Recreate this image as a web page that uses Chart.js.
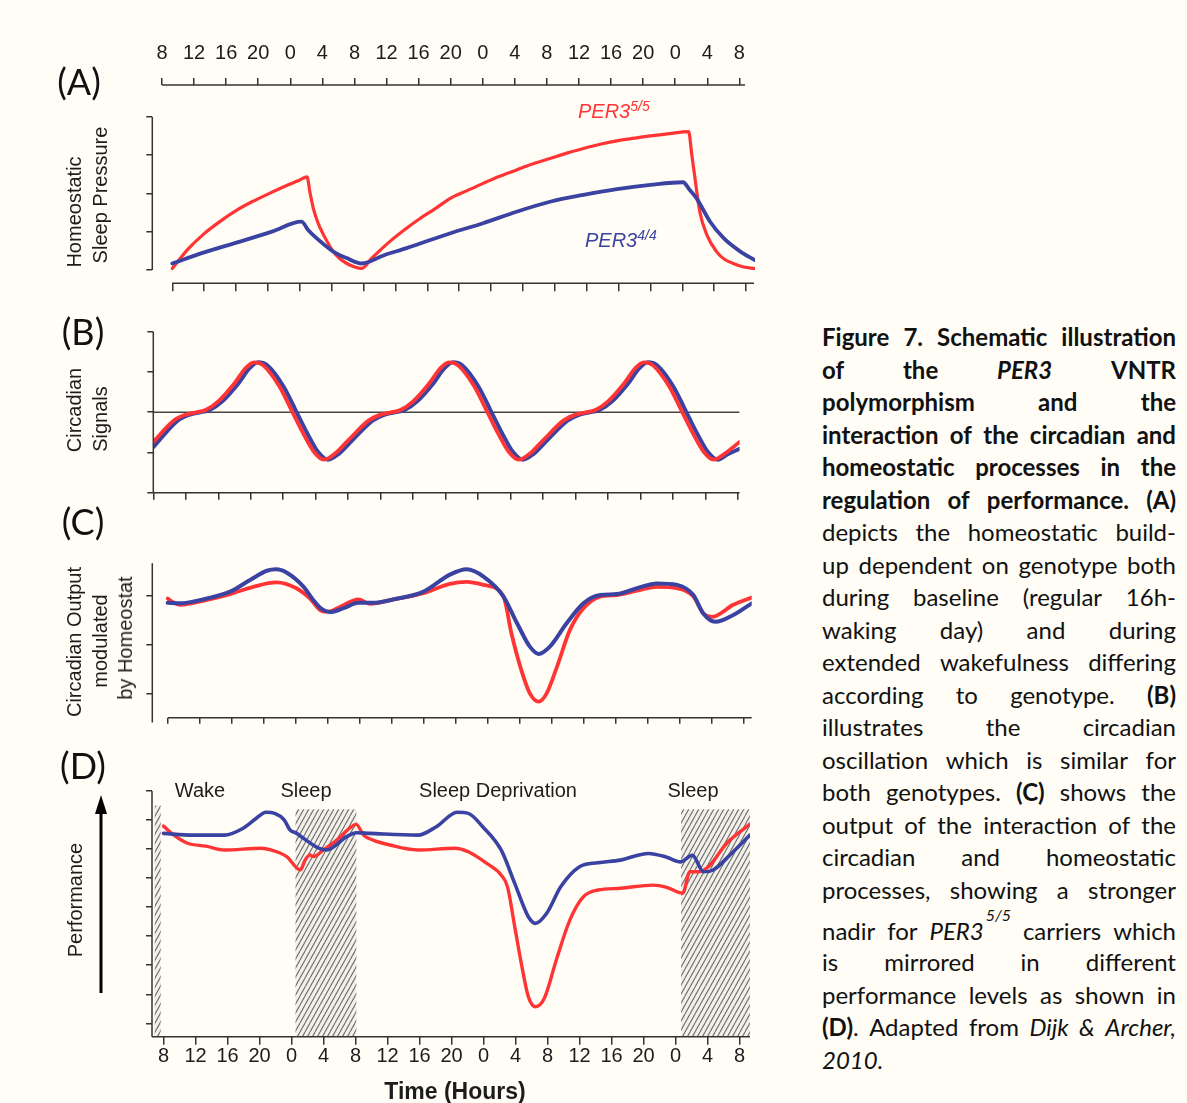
<!DOCTYPE html>
<html>
<head>
<meta charset="utf-8">
<title>PER3 VNTR: circadian and homeostatic processes</title>
<script src="https://cdn.jsdelivr.net/npm/chart.js@4.4.1/dist/chart.umd.min.js"></script>
<style>
  body { margin: 0; background: #fffdf5; }
  #figure { position: relative; width: 1187px; height: 1103px; overflow: hidden;
            font-family: 'Liberation Sans', Arial, sans-serif; color: #1c1c1c; }
  #figure canvas { position: absolute; }
  .lbl { position: absolute; white-space: nowrap; line-height: 1; font-size: 20px; }
  .panel { font-family: Lato, sans-serif; font-size: 36px; color: #111; }
  .gene { position: absolute; font-size: 20px; line-height: 20px; font-style: italic; white-space: nowrap; }
  .gene sup { font-size: 14px; vertical-align: 7px; line-height: 0; }
  .cap { position: absolute; left: 822px; width: 354px; height: 30px; line-height: 30px;
         display: flex; justify-content: space-between; align-items: baseline;
         font-family: Lato, sans-serif; font-size: 24px; color: #111; white-space: nowrap; }
  .cap.last { justify-content: flex-start; }
  .cap sup { font-size: 16px; font-style: italic; vertical-align: 19px; line-height: 0; margin-left: 2px; }
</style>
</head>
<body>
<div id="figure">
  <canvas id="topAxis"></canvas>
  <canvas id="pressureChart"></canvas>
  <canvas id="circadianChart"></canvas>
  <canvas id="outputChart"></canvas>
  <canvas id="performanceChart"></canvas>
</div>
<script>
// hours since 08:00 on the first day
const hourTicks = [0, 4, 8, 12, 16, 20, 24, 28, 32, 36, 40, 44, 48, 52, 56, 60, 64, 68, 72];
const clockLabels = ['8', '12', '16', '20', '0', '4', '8', '12', '16', '20', '0', '4', '8', '12', '16', '20', '0', '4', '8'];

// (A) homeostatic sleep pressure
const pressureTicks = [0, 1, 2, 3, 4];
const pressureHours55 = [0, 2, 4, 6, 8, 10, 12, 14, 16, 16.9, 17.3, 17.7, 18.3, 19, 20.2, 21, 21.9, 23, 23.8,
  25, 26, 27.5, 29.4, 31, 33, 34.9, 37, 39, 41, 43.2, 45, 47.4, 49.5, 51.6, 53.7, 55.8, 58, 60, 62.4, 64.8,
  65.2, 65.6, 66.2, 67.1, 68.3, 69.3, 70.4, 71.7, 73.1];
const pressure55 = [0.04, 0.55, 0.95, 1.27, 1.55, 1.78, 1.98, 2.17, 2.35, 2.43, 2.0, 1.61, 1.22, 0.91, 0.48, 0.3, 0.17, 0.07, 0.04,
  0.3, 0.5, 0.78, 1.09, 1.33, 1.6, 1.87, 2.07, 2.26, 2.44, 2.61, 2.75, 2.91, 3.05, 3.17, 3.28, 3.37, 3.44, 3.5, 3.56, 3.61,
  3.0, 2.39, 1.52, 0.91, 0.48, 0.28, 0.17, 0.08, 0.04];
const pressureHours44 = [0, 4, 8.5, 12.5, 16.2, 17.1, 18.1, 20.2, 21.9, 23.8, 26.5, 29.4, 34.9, 39, 43.2, 47.4, 51.6, 55.8, 60, 64.1,
  64.9, 65.8, 67.5, 69.2, 71.3, 73.1];
const pressure44 = [0.17, 0.46, 0.74, 1.0, 1.26, 1.03, 0.83, 0.48, 0.31, 0.17, 0.38, 0.57, 0.96, 1.22, 1.52, 1.78, 1.96, 2.11, 2.22, 2.29,
  2.1, 1.87, 1.26, 0.83, 0.48, 0.26];

// (B) circadian signal
const circadianTicks = [-2, -1, 0, 1, 2];
const circadianHours55 = [0, 2.5, 4, 6.5, 8, 10, 11.3, 12.4, 13.5, 15.5, 17, 18.5, 19.8, 21, 22.3, 24, 26.5, 28, 30.5, 32, 34, 35.3, 36.4, 37.5, 39.5, 41, 42.5, 43.8, 45, 46.3, 48, 50.5, 52, 54.5, 56, 58, 59.3, 60.4, 61.5, 63.5, 65, 66.5, 67.8, 69, 70.3, 72.2];
const circadian55 = [-0.74, -0.21, -0.06, 0.06, 0.27, 0.72, 1.08, 1.24, 1.17, 0.65, 0.06, -0.54, -0.99, -1.18, -1.04, -0.7, -0.21, -0.06, 0.06, 0.27, 0.72, 1.08, 1.24, 1.17, 0.65, 0.06, -0.54, -0.99, -1.18, -1.04, -0.7, -0.21, -0.06, 0.06, 0.27, 0.72, 1.08, 1.24, 1.17, 0.65, 0.06, -0.54, -0.99, -1.18, -1.04, -0.74];
const circadianHours44 = [0, 3, 4.5, 7, 8.5, 10.5, 11.8, 12.9, 14, 16, 17.5, 19, 20.3, 21.5, 22.8, 24.5, 27, 28.5, 31, 32.5, 34.5, 35.8, 36.9, 38, 40, 41.5, 43, 44.3, 45.5, 46.8, 48.5, 51, 52.5, 55, 56.5, 58.5, 59.8, 60.9, 62, 64, 65.5, 67, 68.3, 69.5, 70.8, 72.2];
const circadian44 = [-0.87, -0.21, -0.06, 0.06, 0.27, 0.72, 1.08, 1.24, 1.17, 0.65, 0.06, -0.54, -0.99, -1.18, -1.04, -0.7, -0.21, -0.06, 0.06, 0.27, 0.72, 1.08, 1.24, 1.17, 0.65, 0.06, -0.54, -0.99, -1.18, -1.04, -0.7, -0.21, -0.06, 0.06, 0.27, 0.72, 1.08, 1.24, 1.17, 0.65, 0.06, -0.54, -0.99, -1.18, -1.04, -0.91];

// (C) circadian output modulated by the homeostat
const outputTicks = [-1, 0, 1];
const outputHours55 = [0, 0.6, 1.5, 4.9, 7.8, 10.7, 13.6, 16.1, 17.8, 19.3, 20.1, 21.6, 23.85, 25.3, 28.2, 32, 35.3, 37.4, 39.5, 42, 43, 44.1, 45.3, 46.4, 47.4, 48.7, 50.3, 52, 54.1, 56.2, 58.7, 61.2, 63.7, 65.75, 67, 68.05, 70.75, 73.05];
const output55 = [0.95, 0.88, 0.82, 0.92, 1.04, 1.19, 1.28, 1.16, 0.95, 0.69, 0.68, 0.78, 0.93, 0.84, 0.93, 1.06, 1.25, 1.29, 1.23, 0.99, 0.23, -0.45, -1.0, -1.17, -1.0, -0.45, 0.3, 0.75, 0.99, 1.02, 1.11, 1.19, 1.16, 0.99, 0.64, 0.57, 0.82, 0.97];
const outputHours44 = [0, 1.5, 4.9, 7.8, 10.3, 12.4, 13.6, 14.9, 17, 18.2, 19.3, 20.3, 22, 23.85, 25.7, 28.2, 32, 35.3, 37.4, 39.5, 42, 43.7, 45.3, 46.4, 47.8, 49.9, 52, 54.1, 56.2, 58.7, 61.2, 63.7, 65.75, 67, 68.5, 70.75, 73.05];
const output44 = [0.86, 0.85, 0.95, 1.09, 1.33, 1.52, 1.55, 1.48, 1.19, 0.92, 0.73, 0.67, 0.75, 0.86, 0.86, 0.93, 1.09, 1.44, 1.55, 1.4, 0.99, 0.44, -0.04, -0.19, -0.04, 0.44, 0.85, 1.02, 1.04, 1.16, 1.26, 1.23, 1.02, 0.64, 0.47, 0.61, 0.85];

// (D) performance, with sleep episodes
const performanceTicks = [0, 1, 2, 3, 4, 5, 6, 7, 8];
const perfHours55 = [0, 1.3, 3, 5.3, 7.6, 12.2, 13.9, 15.4, 17.1, 17.7, 18.3, 18.7, 20, 21.65, 23.5, 24.1, 25, 26.2, 28.3, 31.8, 36.4, 38.1, 40.4, 42.2, 43, 43.9, 44.8, 45.6, 46.5, 47.6, 49.1, 50.8, 52.5, 54.3, 57.1, 61.2, 62.9, 64.9, 65.8, 66.9, 68.1, 70.4, 73.3];
const perf55 = [6.79, 6.48, 6.2, 6.1, 5.97, 6.03, 5.93, 5.74, 5.28, 5.62, 5.8, 5.74, 5.97, 6.31, 6.77, 6.85, 6.48, 6.31, 6.14, 5.97, 6.03, 5.91, 5.51, 5.11, 4.7, 3.33, 1.95, 0.92, 0.57, 0.86, 2.18, 3.56, 4.36, 4.59, 4.65, 4.76, 4.68, 4.48, 5.22, 5.22, 5.39, 6.2, 6.86];
const perfHours44 = [0, 3.6, 7.6, 9.9, 11.6, 12.8, 13.9, 15.1, 15.8, 16.65, 17.5, 19.4, 20.4, 22.9, 24.15, 25.8, 31.8, 34.1, 36.7, 38.1, 39.9, 42.2, 43.9, 45.6, 46.5, 47.9, 49.65, 52, 54.3, 57.1, 60.6, 62.9, 64.6, 66.1, 67.5, 68.7, 71, 73.3];
const perf44 = [6.54, 6.48, 6.48, 6.71, 7.06, 7.27, 7.23, 7.0, 6.66, 6.54, 6.37, 6.03, 5.97, 6.43, 6.56, 6.54, 6.48, 6.77, 7.27, 7.23, 6.77, 5.97, 4.82, 3.67, 3.44, 3.79, 4.7, 5.39, 5.53, 5.62, 5.85, 5.72, 5.56, 5.79, 5.22, 5.28, 5.85, 6.48];
const sleepStart = [-1.1, 16.5, 64.7];
const sleepEnd = [-0.35, 24.1, 73.3];
const sleepTop = [7.5, 7.37, 7.37];

const RED = '#ff3434';
const BLUE = '#3a42a2';
const AXIS = '#333333';
const FONT = 'Liberation Sans';

// R-style detached axis lines, drawn from the scales
const axisLines = {
  id: 'axisLines',
  afterDatasetsDraw(chart, args, o) {
    const { ctx, chartArea: a, scales } = chart;
    ctx.save();
    ctx.strokeStyle = AXIS;
    ctx.lineWidth = 1.5;
    ctx.beginPath();
    if (o.x) {
      const yy = o.top ? a.top : a.bottom;
      ctx.moveTo(scales.x.getPixelForValue(o.x[0]), yy);
      ctx.lineTo(scales.x.getPixelForValue(o.x[1]), yy);
    }
    if (o.y) {
      ctx.moveTo(a.left, scales.y.getPixelForValue(o.y[0]));
      ctx.lineTo(a.left, scales.y.getPixelForValue(o.y[1]));
    }
    ctx.stroke();
    ctx.restore();
  }
};

function hatchPattern(ctx) {
  const tile = document.createElement('canvas');
  tile.width = 5;
  tile.height = 9;
  const t = tile.getContext('2d');
  t.fillStyle = 'rgba(0,0,0,0.05)';
  t.fillRect(0, 0, 5, 9);
  t.strokeStyle = '#6e6e6e';
  t.lineWidth = 1.1;
  t.beginPath();
  for (const dx of [-5, 0, 5]) {
    t.moveTo(dx, 9);
    t.lineTo(dx + 5, 0);
  }
  t.stroke();
  return ctx.createPattern(tile, 'repeat');
}

// hatched sleep episodes in panel D
const sleepShading = {
  id: 'sleepShading',
  beforeDatasetsDraw(chart) {
    const { ctx, chartArea: a, scales: { x, y } } = chart;
    ctx.save();
    ctx.fillStyle = hatchPattern(ctx);
    sleepStart.forEach((s, i) => {
      const x0 = x.getPixelForValue(s);
      const x1 = x.getPixelForValue(sleepEnd[i]);
      const y0 = y.getPixelForValue(sleepTop[i]);
      ctx.fillRect(x0, y0, x1 - x0, a.bottom - y0);
    });
    ctx.restore();
  }
};

function lineSet(hours, values, color, width) {
  return {
    data: hours.map((h, i) => ({ x: h, y: values[i] })),
    borderColor: color,
    borderWidth: width,
    pointRadius: 0,
    fill: false,
    cubicInterpolationMode: 'monotone',
    borderJoinStyle: 'round',
    borderCapStyle: 'round'
  };
}

function makePanel(id, box, area, o) {
  const canvas = document.getElementById(id);
  canvas.width = box.w;
  canvas.height = box.h;
  canvas.style.left = box.x + 'px';
  canvas.style.top = box.y + 'px';
  const yW = o.yTicks ? 8 : 0;
  const xH = o.xSize;
  return new Chart(canvas, {
    type: 'line',
    data: { datasets: o.datasets || [] },
    options: {
      responsive: false,
      animation: false,
      events: [],
      layout: {
        padding: {
          left: area.l - box.x - yW,
          right: box.x + box.w - area.r,
          top: area.t - box.y - (o.top ? xH : 0),
          bottom: box.y + box.h - area.b - (o.top ? 0 : xH)
        }
      },
      plugins: {
        legend: { display: false },
        tooltip: { enabled: false },
        axisLines: { x: o.xLine, y: o.yLine, top: !!o.top }
      },
      scales: {
        x: {
          type: 'linear',
          position: o.top ? 'top' : 'bottom',
          min: o.xMin,
          max: o.xMax,
          afterBuildTicks: s => { s.ticks = hourTicks.map(v => ({ value: v })); },
          afterFit: s => { s.height = xH; },
          border: { display: false },
          grid: { drawOnChartArea: false, drawTicks: true, tickLength: o.xTickLen || 7, color: AXIS, lineWidth: 1.5 },
          ticks: {
            display: !!o.xLabels,
            autoSkip: false,
            maxRotation: 0,
            minRotation: 0,
            padding: o.labelPad || 0,
            color: '#1c1c1c',
            font: { family: FONT, size: 20 },
            callback: (v, i) => clockLabels[i]
          }
        },
        y: {
          type: 'linear',
          display: !!o.yTicks,
          min: o.yMin,
          max: o.yMax,
          afterBuildTicks: s => { if (o.yTicks) s.ticks = o.yTicks.map(v => ({ value: v })); },
          afterFit: s => { s.width = yW; },
          border: { display: false },
          grid: { drawOnChartArea: false, drawTicks: true, tickLength: 6, color: AXIS, lineWidth: 1.5 },
          ticks: { display: false }
        }
      }
    },
    plugins: [axisLines].concat(o.extra || [])
  });
}

// clock-time axis above panel A
makePanel('topAxis', { x: 0, y: 0, w: 790, h: 110 }, { l: 162, r: 745, t: 85, b: 100 }, {
  top: true, xSize: 60, xLabels: true, labelPad: 13, xTickLen: 7,
  xMin: 0, xMax: 72.7, yMin: 0, yMax: 1, xLine: [0, 72.7]
});

makePanel('pressureChart', { x: 0, y: 100, w: 790, h: 205 }, { l: 152.3, r: 755, t: 116.7, b: 283.3 }, {
  xSize: 12, xTickLen: 8,
  xMin: -2.51, xMax: 73.13, yMin: -0.347, yMax: 4,
  yTicks: pressureTicks, xLine: [0, 73], yLine: [0, 4],
  datasets: [
    lineSet(pressureHours44, pressure44, BLUE, 3.8),
    lineSet(pressureHours55, pressure55, RED, 3.2)
  ]
});

makePanel('circadianChart', { x: 0, y: 315, w: 790, h: 200 }, { l: 153.3, r: 739.6, t: 331.7, b: 492.7 }, {
  xSize: 10, xTickLen: 7,
  xMin: 0, xMax: 72.2, yMin: -2, yMax: 2,
  yTicks: circadianTicks, xLine: [0, 72.2], yLine: [-2, 2],
  datasets: [
    lineSet(circadianHours55, circadian55, RED, 3.8),
    lineSet(circadianHours44, circadian44, BLUE, 4),
    { data: [{ x: 0, y: 0 }, { x: 72.2, y: 0 }], borderColor: '#444', borderWidth: 1.6, pointRadius: 0 }
  ]
});

makePanel('outputChart', { x: 0, y: 545, w: 790, h: 190 }, { l: 152.3, r: 751.7, t: 563.3, b: 717.7 }, {
  xSize: 10, xTickLen: 6,
  xMin: -1.93, xMax: 73.05, yMin: -1.5, yMax: 1.673,
  yTicks: outputTicks, xLine: [0, 73.05], yLine: [-1.6, 1.673],
  datasets: [
    lineSet(outputHours44, output44, BLUE, 4),
    lineSet(outputHours55, output55, RED, 3.8)
  ]
});

makePanel('performanceChart', { x: 0, y: 780, w: 790, h: 323 }, { l: 152, r: 750, t: 791, b: 1036.7 }, {
  xSize: 50, xLabels: true, labelPad: 0, xTickLen: 8,
  xMin: -1.44, xMax: 73.31, yMin: -0.461, yMax: 8,
  yTicks: performanceTicks, xLine: [-1.44, 73.31], yLine: [-0.461, 8],
  extra: [sleepShading],
  datasets: [
    lineSet(perfHours44, perf44, BLUE, 3.6),
    lineSet(perfHours55, perf55, RED, 3.4)
  ]
});

// text around the panels
const fig = document.getElementById('figure');

function addText(html, x, y, cls, rotate, style) {
  const d = document.createElement('div');
  d.className = 'lbl ' + (cls || '');
  d.innerHTML = html;
  d.style.left = x + 'px';
  d.style.top = y + 'px';
  d.style.transform = 'translate(-50%, -50%)' + (rotate ? ' rotate(-90deg)' : '');
  if (style) Object.assign(d.style, style);
  fig.appendChild(d);
}

addText('(A)', 79, 81, 'panel');
addText('(B)', 83, 331, 'panel');
addText('(C)', 83, 521, 'panel');
addText('(D)', 83, 765, 'panel');

addText('Homeostatic', 74, 212, '', true);
addText('Sleep Pressure', 100, 195, '', true);
addText('Circadian', 74, 410, '', true);
addText('Signals', 100, 419, '', true);
addText('Circadian Output', 74, 642, '', true);
addText('modulated', 100, 641, '', true);
addText('by Homeostat', 125, 638, '', true);
addText('Performance', 75, 900, '', true);

addText('Wake', 200, 790);
addText('Sleep', 306, 790);
addText('Sleep Deprivation', 498, 790);
addText('Sleep', 693, 790);
addText('Time (Hours)', 455, 1091, '', false, { fontWeight: 'bold', fontSize: '23px' });

function addGene(text, sup, left, baseline, color) {
  const d = document.createElement('div');
  d.className = 'gene';
  d.innerHTML = text + '<sup>' + sup + '</sup>';
  d.style.left = left + 'px';
  d.style.top = (baseline - 16.9) + 'px';
  d.style.color = color;
  fig.appendChild(d);
}
addGene('PER3', '5/5', 578, 117.7, RED);
addGene('PER3', '4/4', 585, 246.7, BLUE);

// performance arrow
const svgNS = 'http://www.w3.org/2000/svg';
const svg = document.createElementNS(svgNS, 'svg');
svg.setAttribute('width', '30');
svg.setAttribute('height', '210');
svg.style.position = 'absolute';
svg.style.left = '86px';
svg.style.top = '790px';
svg.innerHTML = '<line x1="15" y1="203" x2="15" y2="20" stroke="#000" stroke-width="3"/>' +
  '<polygon points="9,24 21,24 15,5" fill="#000"/>';
fig.appendChild(svg);

// caption, one justified line per row
const words = (s, tag) => s.split(' ').map(w => tag ? '<' + tag + '>' + w + '</' + tag + '>' : w);
const captionLines = [
  words('Figure 7. Schematic illustration', 'b'),
  words('of the', 'b').concat(['<b><i>PER3</i></b>', '<b>VNTR</b>']),
  words('polymorphism and the', 'b'),
  words('interaction of the circadian and', 'b'),
  words('homeostatic processes in the', 'b'),
  words('regulation of performance. (A)', 'b'),
  words('depicts the homeostatic build-'),
  words('up dependent on genotype both'),
  words('during baseline (regular 16h-'),
  words('waking day) and during'),
  words('extended wakefulness differing'),
  words('according to genotype.').concat(['<b>(B)</b>']),
  words('illustrates the circadian'),
  words('oscillation which is similar for'),
  words('both genotypes.').concat(['<b>(C)</b>'], words('shows the')),
  words('output of the interaction of the'),
  words('circadian and homeostatic'),
  words('processes, showing a stronger'),
  ['nadir', 'for', '<i>PER3</i><sup>5/5</sup>', 'carriers', 'which'],
  words('is mirrored in different'),
  words('performance levels as shown in'),
  ['<b>(D)</b>.', 'Adapted', 'from', '<i>Dijk</i>', '<i>&amp;</i>', '<i>Archer,</i>'],
  ['<i>2010.</i>']
];
const captionBaselines = [346.7, 379, 411.5, 444, 476.5, 509, 541.5, 574, 606.5, 639, 671.5, 704, 736.5, 769, 801.5, 834, 866.5, 899, 939.3, 971.7, 1004, 1036.5, 1069];

captionLines.forEach((line, i) => {
  const row = document.createElement('div');
  row.className = 'cap' + (i === captionLines.length - 1 ? ' last' : '');
  row.style.top = (captionBaselines[i] - 24.3) + 'px';
  row.innerHTML = line.map(w => '<span>' + w + '</span>').join('');
  fig.appendChild(row);
});
</script>
</body>
</html>
